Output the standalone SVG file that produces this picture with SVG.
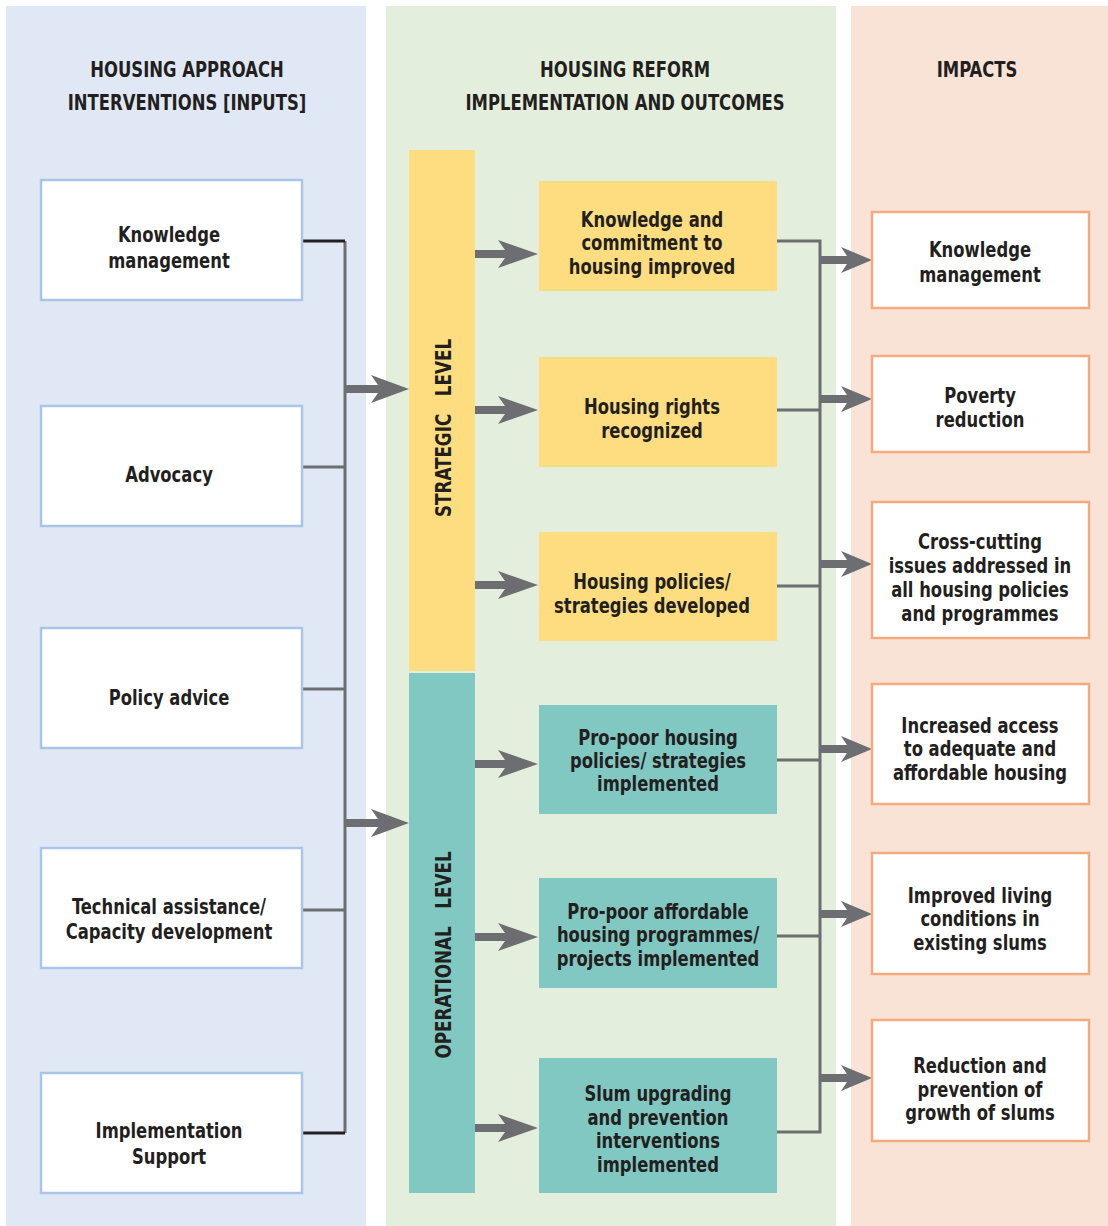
<svg xmlns="http://www.w3.org/2000/svg" width="1108" height="1226" viewBox="0 0 1108 1226">
<style>
text{font-family:"Liberation Sans Narrow","DejaVu Sans Condensed","Liberation Sans",sans-serif;font-weight:bold;font-size:20.5px;fill:#231f20;text-anchor:middle;transform-box:fill-box;transform-origin:center;transform:scaleX(0.89)}
.hd{font-size:21px;transform:scaleX(0.87)}
.vt{font-size:21px;transform:scaleX(0.89)}
.lb{fill:#fff;stroke:#a9c5e8;stroke-width:2.5}
.rb{fill:#fff;stroke:#f2aa7e;stroke-width:2.5}
.yb{fill:#fddd7f}
.tb{fill:#80c8c1}
.ln{fill:none;stroke:#6d6e71;stroke-width:3}
.bk{fill:none;stroke:#231f20;stroke-width:3}
.ar{fill:#6d6e71}
</style>
<defs>
<path id="bigArrow" d="M0,-4 L33,-4 L26,-14 L64,0 L26,14 L33,4 L0,4 Z"/>
<path id="arrow" d="M0,-4 L30,-4 L23,-14 L63,0 L23,14 L30,4 L0,4 Z"/>
<path id="arrowR" d="M0,-4 L27,-4 L21,-13 L52,0 L21,13 L27,4 L0,4 Z"/>
</defs>
<g id="panels">
<rect x="6" y="6" width="360" height="1220" fill="#e1e8f5"/>
<rect x="386" y="6" width="450" height="1220" fill="#e3efdc"/>
<rect x="851" y="6" width="257" height="1220" fill="#f8e3d6"/>
</g>
<g id="headers">
<text class="hd" x="187" y="77">HOUSING APPROACH</text>
<text class="hd" x="187" y="110">INTERVENTIONS [INPUTS]</text>
<text class="hd" x="625" y="77">HOUSING REFORM</text>
<text class="hd" x="625" y="110">IMPLEMENTATION AND OUTCOMES</text>
<text class="hd" x="977" y="77">IMPACTS</text>
</g>
<g id="connectors">
<path class="ln" d="M345,241 V1133 M302,467 H345 M302,689 H345 M302,910 H345"/>
<path class="bk" d="M302,241 H345 M302,1133 H345"/>
<use href="#bigArrow" class="ar" x="345" y="389"/>
<use href="#bigArrow" class="ar" x="345" y="823"/>
<use href="#arrow" class="ar" x="475" y="254"/>
<use href="#arrow" class="ar" x="475" y="410"/>
<use href="#arrow" class="ar" x="475" y="585"/>
<use href="#arrow" class="ar" x="475" y="764"/>
<use href="#arrow" class="ar" x="475" y="937"/>
<use href="#arrow" class="ar" x="475" y="1128"/>
<path class="ln" d="M777,241 H820 V1132 H777 M777,410 H820 M777,586 H820 M777,760 H820 M777,936 H820"/>
<use href="#arrowR" class="ar" x="820" y="260"/>
<use href="#arrowR" class="ar" x="820" y="399"/>
<use href="#arrowR" class="ar" x="820" y="564"/>
<use href="#arrowR" class="ar" x="820" y="749"/>
<use href="#arrowR" class="ar" x="820" y="914"/>
<use href="#arrowR" class="ar" x="820" y="1078"/>
</g>
<g id="in-knowledge"><rect class="lb" x="41" y="180" width="261" height="120"/><text x="169" y="242">Knowledge</text><text x="169" y="268">management</text></g>
<g id="in-advocacy"><rect class="lb" x="41" y="406" width="261" height="120"/><text x="169" y="482">Advocacy</text></g>
<g id="in-policy"><rect class="lb" x="41" y="628" width="261" height="120"/><text x="169" y="705">Policy advice</text></g>
<g id="in-technical"><rect class="lb" x="41" y="848" width="261" height="120"/><text x="169" y="914">Technical assistance/</text><text x="169" y="939">Capacity development</text></g>
<g id="in-implementation"><rect class="lb" x="41" y="1073" width="261" height="120"/><text x="169" y="1138">Implementation</text><text x="169" y="1164">Support</text></g>
<g id="strategic-level"><rect class="yb" x="409" y="150" width="66" height="521"/><g transform="translate(451,428) rotate(-90)"><text class="vt" x="0" y="0" xml:space="preserve">STRATEGIC   LEVEL</text></g></g>
<g id="operational-level"><rect class="tb" x="409" y="673" width="66" height="520"/><g transform="translate(451,955) rotate(-90)"><text class="vt" x="0" y="0" xml:space="preserve">OPERATIONAL   LEVEL</text></g></g>
<g id="out-knowledge"><rect class="yb" x="539" y="181" width="238" height="110"/><text x="652" y="227">Knowledge and</text><text x="652" y="250">commitment to</text><text x="652" y="274">housing improved</text></g>
<g id="out-rights"><rect class="yb" x="539" y="357" width="238" height="110"/><text x="652" y="414">Housing rights</text><text x="652" y="438">recognized</text></g>
<g id="out-policies"><rect class="yb" x="539" y="532" width="238" height="109"/><text x="652" y="589">Housing policies/</text><text x="652" y="613">strategies developed</text></g>
<g id="out-propoor-policies"><rect class="tb" x="539" y="705" width="238" height="109"/><text x="658" y="745">Pro-poor housing</text><text x="658" y="768">policies/ strategies</text><text x="658" y="791">implemented</text></g>
<g id="out-propoor-programmes"><rect class="tb" x="539" y="878" width="238" height="110"/><text x="658" y="919">Pro-poor affordable</text><text x="658" y="942">housing programmes/</text><text x="658" y="966">projects implemented</text></g>
<g id="out-slum"><rect class="tb" x="539" y="1058" width="238" height="135"/><text x="658" y="1101">Slum upgrading</text><text x="658" y="1125">and prevention</text><text x="658" y="1148">interventions</text><text x="658" y="1172">implemented</text></g>
<g id="imp-knowledge"><rect class="rb" x="872" y="212" width="217" height="96"/><text x="980" y="257">Knowledge</text><text x="980" y="282">management</text></g>
<g id="imp-poverty"><rect class="rb" x="872" y="356" width="217" height="96"/><text x="980" y="403">Poverty</text><text x="980" y="427">reduction</text></g>
<g id="imp-crosscutting"><rect class="rb" x="872" y="502" width="217" height="136"/><text x="980" y="549">Cross-cutting</text><text x="980" y="573">issues addressed in</text><text x="980" y="597">all housing policies</text><text x="980" y="621">and programmes</text></g>
<g id="imp-access"><rect class="rb" x="872" y="684" width="217" height="120"/><text x="980" y="733">Increased access</text><text x="980" y="756">to adequate and</text><text x="980" y="780">affordable housing</text></g>
<g id="imp-living"><rect class="rb" x="872" y="853" width="217" height="121"/><text x="980" y="903">Improved living</text><text x="980" y="926">conditions in</text><text x="980" y="950">existing slums</text></g>
<g id="imp-slums"><rect class="rb" x="872" y="1020" width="217" height="121"/><text x="980" y="1073">Reduction and</text><text x="980" y="1097">prevention of</text><text x="980" y="1120">growth of slums</text></g>
</svg>
